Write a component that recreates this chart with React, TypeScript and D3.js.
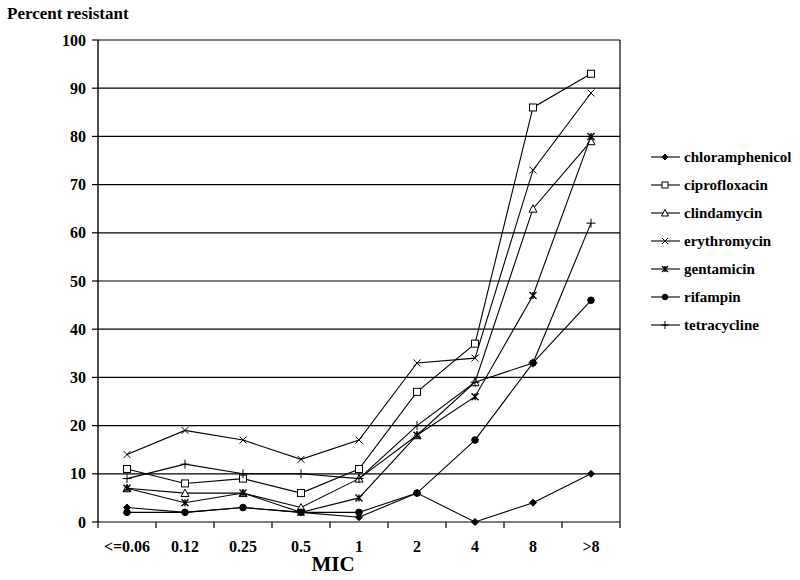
import React from 'react';
import * as d3 from 'd3';

const categories = ['<=0.06', '0.12', '0.25', '0.5', '1', '2', '4', '8', '>8'];
const yTicks = [0, 10, 20, 30, 40, 50, 60, 70, 80, 90, 100];

const chloramphenicol = [3, 2, 3, 2, 1, 6, 0, 4, 10];
const ciprofloxacin = [11, 8, 9, 6, 11, 27, 37, 86, 93];
const clindamycin = [7, 6, 6, 3, 9, 18, 29, 65, 79];
const erythromycin = [14, 19, 17, 13, 17, 33, 34, 73, 89];
const gentamicin = [7, 4, 6, 2, 5, 18, 26, 47, 80];
const rifampin = [2, 2, 3, 2, 2, 6, 17, 33, 46];
const tetracycline = [9, 12, 10, 10, 9, 20, 29, 33, 62];

const series = [
  { name: 'chloramphenicol', values: chloramphenicol, marker: 'diamond' },
  { name: 'ciprofloxacin', values: ciprofloxacin, marker: 'square' },
  { name: 'clindamycin', values: clindamycin, marker: 'triangle' },
  { name: 'erythromycin', values: erythromycin, marker: 'x' },
  { name: 'gentamicin', values: gentamicin, marker: 'asterisk' },
  { name: 'rifampin', values: rifampin, marker: 'circle' },
  { name: 'tetracycline', values: tetracycline, marker: 'plus' },
];

const txt = { fontFamily: "'Liberation Serif', 'Times New Roman', serif", fontWeight: 'bold' as const };

const Marker = ({ type, x, y, s = 3.5 }: { type: string; x: number; y: number; s?: number }) => {
  const st = { stroke: '#000', strokeWidth: 1 };
  switch (type) {
    case 'diamond':
      return <path d={`M${x},${y - s}L${x + s},${y}L${x},${y + s}L${x - s},${y}Z`} fill="#000" {...st} />;
    case 'square':
      return <rect x={x - s} y={y - s} width={s * 2} height={s * 2} fill="#fff" {...st} />;
    case 'triangle':
      return <path d={`M${x},${y - s - 0.5}L${x + s + 0.5},${y + s}L${x - s - 0.5},${y + s}Z`} fill="#fff" {...st} />;
    case 'x':
      return <path d={`M${x - s},${y - s}L${x + s},${y + s}M${x - s},${y + s}L${x + s},${y - s}`} fill="none" {...st} />;
    case 'asterisk':
      return (
        <path
          d={`M${x - s},${y - s}L${x + s},${y + s}M${x - s},${y + s}L${x + s},${y - s}M${x},${y - s}L${x},${y + s}`}
          fill="none"
          stroke="#000"
          strokeWidth={1.4}
        />
      );
    case 'circle':
      return <circle cx={x} cy={y} r={s - 0.2} fill="#000" {...st} />;
    case 'plus':
      return <path d={`M${x - s - 1},${y}L${x + s + 1},${y}M${x},${y - s - 1}L${x},${y + s + 1}`} fill="none" {...st} />;
    default:
      return null;
  }
};

export default function App() {
  const width = 800, height = 580;
  const left = 98, right = 620, top = 40, bottom = 522;

  const x = d3.scaleBand().domain(categories).range([left, right]).padding(0);
  const y = d3.scaleLinear().domain([0, 100]).range([bottom, top]);
  const cx = (c: string) => (x(c) as number) + x.bandwidth() / 2;

  const line = d3
    .line<number>()
    .x((_, i) => cx(categories[i]))
    .y((d) => y(d));

  const legendX = 651, legendY0 = 157, legendStep = 28;

  return (
    <svg width={width} height={height} style={{ position: 'absolute', left: 0, top: 0, background: '#fff' }}>
      <text x={7} y={19} style={{ ...txt, fontSize: 17 }}>
        Percent resistant
      </text>

      {yTicks.map((t) => (
        <g key={t}>
          <line x1={left} x2={right} y1={y(t)} y2={y(t)} stroke="#000" strokeWidth={1.2} />
          <line x1={left - 6} x2={left} y1={y(t)} y2={y(t)} stroke="#000" strokeWidth={1.2} />
          <text x={86} y={y(t)} dy="0.35em" textAnchor="end" style={{ ...txt, fontSize: 16 }}>
            {t}
          </text>
        </g>
      ))}
      <line x1={left} x2={left} y1={top} y2={bottom} stroke="#000" strokeWidth={1.4} />
      <line x1={right} x2={right} y1={top} y2={bottom} stroke="#000" strokeWidth={1.2} />

      {categories.map((c) => (
        <line key={'t' + c} x1={x(c)} x2={x(c)} y1={bottom} y2={bottom + 6} stroke="#000" strokeWidth={1.2} />
      ))}
      <line x1={right} x2={right} y1={bottom} y2={bottom + 6} stroke="#000" strokeWidth={1.2} />
      {categories.map((c) => (
        <text key={'l' + c} x={cx(c)} y={552} textAnchor="middle" style={{ ...txt, fontSize: 16 }}>
          {c}
        </text>
      ))}
      <text x={333} y={571} textAnchor="middle" style={{ ...txt, fontSize: 21 }}>
        MIC
      </text>

      {series.map((s) => (
        <g key={s.name}>
          <path d={line(s.values) as string} fill="none" stroke="#000" strokeWidth={1.1} />
          {s.values.map((v, i) => (
            <Marker key={i} type={s.marker} x={cx(categories[i])} y={y(v)} />
          ))}
        </g>
      ))}

      {series.map((s, i) => {
        const ly = legendY0 + i * legendStep;
        return (
          <g key={'lg' + s.name}>
            <line x1={legendX} x2={legendX + 29} y1={ly} y2={ly} stroke="#000" strokeWidth={1.1} />
            <Marker type={s.marker} x={legendX + 14} y={ly} s={3} />
            <text x={legendX + 33} y={ly} dy="0.35em" style={{ ...txt, fontSize: 15 }}>
              {s.name}
            </text>
          </g>
        );
      })}
    </svg>
  );
}
